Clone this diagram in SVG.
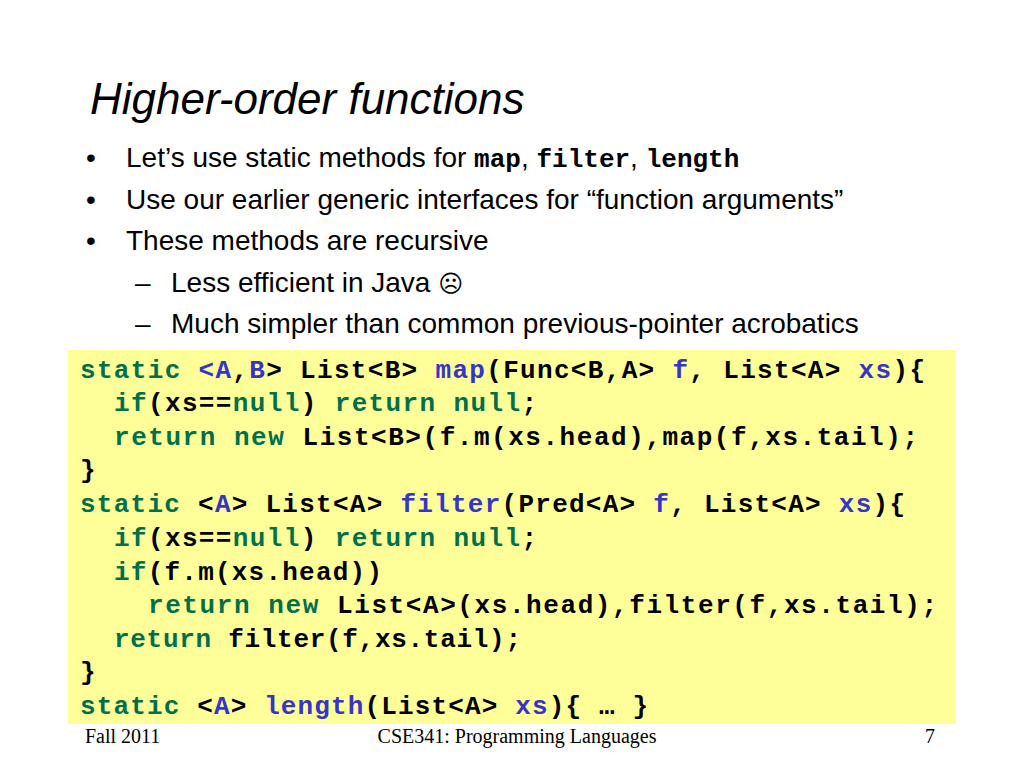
<svg xmlns="http://www.w3.org/2000/svg" width="1024" height="768" viewBox="0 0 1024 768">
<style>
.t{font-family:"Liberation Sans",Arial,sans-serif;font-size:28px;fill:#000}
.c{font-family:"Liberation Mono","Courier New",monospace;font-size:26px;font-weight:bold;fill:#000}
.k{fill:#00704A}
.b{fill:#3535C8}
.f{font-family:"Liberation Serif","Times New Roman",serif;font-size:20px;fill:#000}
</style>
<rect width="1024" height="768" fill="#fff"/>
<text x="90" y="114" font-family="Liberation Sans,Arial,sans-serif" font-size="44" font-style="italic">Higher-order functions</text>
<g class="t">
<text x="86" y="167">•</text><text x="126" y="167">Let’s use static methods for <tspan class="c" font-size="25">map</tspan>, <tspan class="c" font-size="25">filter</tspan>, <tspan class="c" font-size="25">length</tspan></text>
<text x="86" y="209">•</text><text x="126" y="209">Use our earlier generic interfaces for “function arguments”</text>
<text x="86" y="250">•</text><text x="126" y="250">These methods are recursive</text>
<text x="135" y="292">–</text><text x="171" y="292">Less efficient in Java <tspan font-family="DejaVu Sans,sans-serif" font-size="24">☹</tspan></text>
<text x="135" y="333">–</text><text x="171" y="333">Much simpler than common previous-pointer acrobatics</text>
</g>
<rect x="68" y="350" width="888" height="374" fill="#FFFF99"/>
<g class="c" xml:space="preserve">
<text x="80" y="378" textLength="845" lengthAdjust="spacing"><tspan class="k">static</tspan> <tspan class="b">&lt;</tspan><tspan class="b">A</tspan>,<tspan class="b">B</tspan>&gt; List&lt;B&gt; <tspan class="b">map</tspan>(Func&lt;B,A&gt; <tspan class="b">f</tspan>, List&lt;A&gt; <tspan class="b">xs</tspan>){</text>
<text x="114" y="411" textLength="423" lengthAdjust="spacing"><tspan class="k">if</tspan>(xs==<tspan class="k">null</tspan>) <tspan class="k">return</tspan> <tspan class="k">null</tspan>;</text>
<text x="114" y="445" textLength="804" lengthAdjust="spacing"><tspan class="k">return</tspan> <tspan class="k">new</tspan> List&lt;B&gt;(f.m(xs.head),map(f,xs.tail);</text>
<text x="80" y="478">}</text>
<text x="80" y="512" textLength="825" lengthAdjust="spacing"><tspan class="k">static</tspan> &lt;<tspan class="b">A</tspan>&gt; List&lt;A&gt; <tspan class="b">filter</tspan>(Pred&lt;A&gt; <tspan class="b">f</tspan>, List&lt;A&gt; <tspan class="b">xs</tspan>){</text>
<text x="114" y="546" textLength="423" lengthAdjust="spacing"><tspan class="k">if</tspan>(xs==<tspan class="k">null</tspan>) <tspan class="k">return</tspan> <tspan class="k">null</tspan>;</text>
<text x="114" y="580" textLength="268" lengthAdjust="spacing"><tspan class="k">if</tspan>(f.m(xs.head))</text>
<text x="148" y="613" textLength="789" lengthAdjust="spacing"><tspan class="k">return</tspan> <tspan class="k">new</tspan> List&lt;A&gt;(xs.head),filter(f,xs.tail);</text>
<text x="114" y="647" textLength="407" lengthAdjust="spacing"><tspan class="k">return</tspan> filter(f,xs.tail);</text>
<text x="80" y="680">}</text>
<text x="80" y="714" textLength="568" lengthAdjust="spacing"><tspan class="k">static</tspan> &lt;<tspan class="b">A</tspan>&gt; <tspan class="b">length</tspan>(List&lt;A&gt; <tspan class="b">xs</tspan>){ … }</text>
</g>
<text class="f" x="85" y="743">Fall 2011</text>
<text class="f" x="517" y="743" text-anchor="middle">CSE341: Programming Languages</text>
<text class="f" x="935" y="743" text-anchor="end">7</text>
</svg>
